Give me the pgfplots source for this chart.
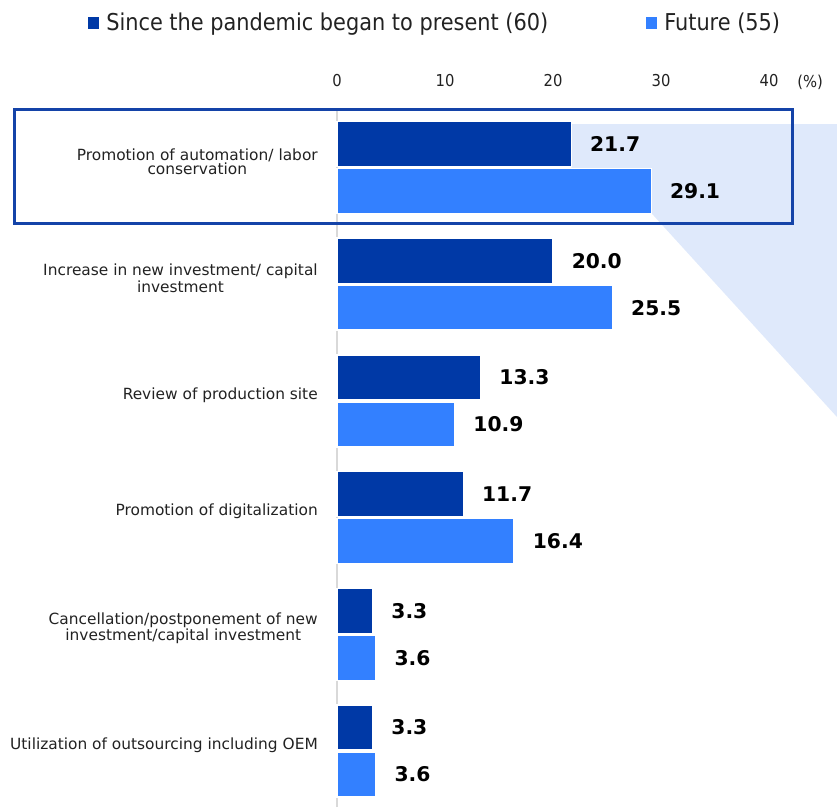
\documentclass[border=0pt]{standalone}
\usepackage{pgfplots}
\pgfplotsset{compat=1.18}
\usepackage{fontspec}
\setmainfont{DejaVu Sans}
\newfontfamily\condfont{DejaVu Sans Condensed}
\newdimen\px \px=0.75pt
\definecolor{darkbar}{HTML}{0039A6}
\definecolor{lightbar}{HTML}{3380FF}
\definecolor{polyblue}{HTML}{DFE9FB}
\definecolor{boxblue}{HTML}{1443A8}
\definecolor{axisgray}{HTML}{D9D9D9}
\definecolor{labelgray}{HTML}{222222}
\begin{document}
\begin{tikzpicture}
\useasboundingbox (0,0) rectangle (837\px,807\px);
\begin{axis}[
  at={(337\px,0)}, anchor=south west,
  scale only axis, width=500\px, height=697\px,
  xmin=0, xmax=46.296, ymin=-0.480, ymax=5.493,
  clip=false,
  axis y line=left, axis x line=top,
  axis line style={-},
  x axis line style={draw=none},
  y axis line style={draw=axisgray, line width=2\px},
  xtick={0,10,20,30,40},
  major tick length=0pt,
  xticklabel pos=top,
  x tick label style={font=\condfont\fontsize{12.3pt}{14pt}\selectfont, anchor=south, inner sep=0pt, yshift=23\px, text=labelgray},
  /pgf/number format/assume math mode=true,
  ytick={0,1,2,3,4,5},
  yticklabels={
    {Utilization of outsourcing including OEM},
    {Cancellation/postponement of new\\investment/capital investment},
    {Promotion of digitalization},
    {Review of production site},
    {Increase in new investment/ capital\\investment},
    {Promotion of automation/ labor\\conservation}},
  y tick label style={align=center, font=\fontsize{11.55pt}{10.8pt}\selectfont, anchor=east, inner sep=0pt, xshift=-19\px, yshift=6\px, text=labelgray},
  xbar, bar width=0.386,
  nodes near coords,
  nodes near coords style={font=\bfseries\fontsize{15.2pt}{18pt}\selectfont, anchor=west, inner sep=0pt, xshift=18\px, text=black,
    /pgf/number format/.cd, fixed, fixed zerofill, precision=1},
  legend columns=2,
  legend style={at={(axis description cs:-0.498,1.1248)}, anchor=west, draw=none, fill=none, inner sep=0pt,
    font=\condfont\fontsize{17.4pt}{20pt}\selectfont, text=labelgray,
    nodes={inner sep=0pt},
    /tikz/every odd column/.append style={column sep=7\px},
    /tikz/every even column/.append style={column sep=98\px}},
  legend image code/.code={\fill[#1, draw=none] (0pt,-6\px) rectangle (11\px,6\px);},
]
\fill[polyblue] (axis cs:21.7,5.373) -- (axis cs:46.296,5.373) -- (axis cs:46.296,2.862) -- (axis cs:29.1,4.61) -- (axis cs:21.7,4.61) -- cycle;
\addplot[fill=darkbar, draw=white, line width=1.5\px, bar shift=0.201] coordinates {
  (21.7,5) (20.0,4) (13.3,3) (11.7,2) (3.3,1) (3.3,0)};
\addlegendentry{Since the pandemic began to present (60)}
\addplot[fill=lightbar, draw=white, line width=1.5\px, bar shift=-0.201] coordinates {
  (29.1,5) (25.5,4) (10.9,3) (16.4,2) (3.6,1) (3.6,0)};
\addlegendentry{Future (55)}
\draw[boxblue, line width=3\px] (axis cs:-29.9,5.501) rectangle (axis cs:42.2,4.524);
\node[anchor=base, font=\condfont\fontsize{12.3pt}{14pt}\selectfont, text=labelgray, inner sep=0pt] at (axis cs:43.8,5.69) {(\%)};
\end{axis}
\end{tikzpicture}
\end{document}
